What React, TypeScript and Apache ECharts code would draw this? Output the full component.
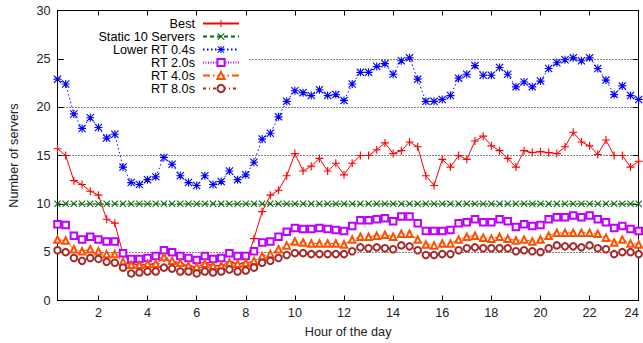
import { useEffect, useRef } from 'react';
import * as echarts from 'echarts';

// Samples every 20 minutes, from 0:20 to 24:00 (72 samples)
const best = [
  15.7, 15.0, 12.4, 12.0, 11.3, 10.9, 8.4, 8.0, 4.8, 3.8, 3.7, 3.7, 3.8, 4.4, 4.0, 3.8, 3.6, 3.4, 3.9, 3.6, 3.6, 4.0, 3.8, 3.9,
  6.4, 9.2, 10.9, 11.4, 12.9, 15.2, 13.4, 13.9, 14.7, 13.4, 14.2, 13.0, 14.2, 15.0, 15.0, 15.6, 16.3, 15.2, 15.5, 16.4, 15.9, 12.9, 11.9, 14.6,
  13.8, 15.0, 14.6, 16.5, 17.0, 16.0, 15.5, 14.7, 13.8, 15.5, 15.3, 15.4, 15.3, 15.2, 15.9, 17.4, 16.4, 16.0, 15.1, 16.6, 15.0, 15.0, 13.8, 14.4,
];
const staticServers = [
  10, 10, 10, 10, 10, 10, 10, 10, 10, 10, 10, 10, 10, 10, 10, 10, 10, 10, 10, 10, 10, 10, 10, 10,
  10, 10, 10, 10, 10, 10, 10, 10, 10, 10, 10, 10, 10, 10, 10, 10, 10, 10, 10, 10, 10, 10, 10, 10,
  10, 10, 10, 10, 10, 10, 10, 10, 10, 10, 10, 10, 10, 10, 10, 10, 10, 10, 10, 10, 10, 10, 10, 10,
];
const lowerRt04 = [
  22.9, 22.4, 19.3, 17.8, 18.9, 17.9, 16.8, 17.2, 13.8, 12.2, 12.0, 12.5, 12.8, 14.8, 14.1, 12.9, 12.2, 11.9, 12.9, 12.0, 12.3, 13.4, 12.5, 13.0,
  14.3, 16.7, 17.3, 19.0, 20.6, 21.7, 21.5, 21.2, 21.8, 21.2, 21.3, 20.7, 22.4, 23.6, 23.6, 24.2, 24.5, 23.4, 24.8, 25.1, 22.9, 20.6, 20.6, 20.8,
  21.2, 23.0, 23.4, 24.3, 23.3, 23.3, 24.1, 23.4, 22.1, 22.6, 22.1, 22.7, 24.0, 24.6, 24.9, 25.1, 24.8, 25.1, 24.0, 22.8, 21.3, 22.2, 21.2, 20.8,
];
const rt20 = [
  7.9, 7.8, 6.7, 6.3, 6.6, 6.3, 6.1, 6.1, 4.9, 4.3, 4.3, 4.4, 4.6, 5.2, 5.0, 4.6, 4.4, 4.2, 4.6, 4.3, 4.4, 4.9, 4.6, 4.6,
  5.1, 6.0, 6.1, 6.6, 7.1, 7.5, 7.4, 7.4, 7.5, 7.4, 7.3, 7.2, 7.7, 8.3, 8.3, 8.4, 8.5, 8.2, 8.7, 8.7, 8.0, 7.2, 7.2, 7.2,
  7.3, 8.0, 8.1, 8.4, 8.1, 8.1, 8.4, 8.2, 7.6, 7.9, 7.7, 7.8, 8.4, 8.6, 8.6, 8.8, 8.6, 8.8, 8.4, 8.1, 7.5, 7.7, 7.4, 7.2,
];
const rt40 = [
  6.3, 6.2, 5.3, 5.1, 5.3, 5.1, 4.8, 4.8, 4.0, 3.7, 3.7, 3.8, 3.8, 4.5, 4.1, 3.9, 3.6, 3.5, 3.8, 3.6, 3.6, 3.9, 3.8, 3.9,
  4.1, 4.6, 4.8, 5.3, 5.7, 6.1, 6.0, 5.9, 5.9, 5.9, 5.9, 5.8, 6.3, 6.6, 6.6, 6.7, 6.8, 6.6, 6.9, 6.9, 6.3, 5.8, 5.7, 5.9,
  5.9, 6.3, 6.6, 6.7, 6.5, 6.4, 6.6, 6.4, 6.2, 6.3, 6.1, 6.3, 6.7, 7.0, 7.0, 7.0, 7.0, 7.0, 6.9, 6.5, 6.0, 6.3, 5.9, 5.8,
];
const rt80 = [
  5.2, 5.0, 4.4, 4.1, 4.4, 4.3, 4.0, 3.9, 3.4, 2.8, 2.9, 3.0, 3.0, 3.4, 3.3, 3.0, 3.0, 2.8, 3.0, 2.9, 3.0, 3.2, 3.0, 3.1,
  3.4, 3.9, 4.1, 4.4, 4.7, 4.9, 4.9, 4.8, 4.8, 4.8, 4.8, 4.8, 5.1, 5.5, 5.4, 5.5, 5.4, 5.3, 5.7, 5.6, 5.2, 4.7, 4.7, 4.8,
  4.8, 5.2, 5.4, 5.5, 5.4, 5.4, 5.4, 5.4, 5.1, 5.2, 5.1, 5.0, 5.4, 5.7, 5.6, 5.6, 5.5, 5.7, 5.4, 5.3, 4.8, 5.0, 5.0, 4.8,
];
const hours = best.map((_, i) => (i + 1) / 3);
const xTicks = [2, 4, 6, 8, 10, 12, 14, 16, 18, 20, 22, 24];
const seriesNames = ['Best', 'Static 10 Servers', 'Lower RT 0.4s', 'RT 2.0s', 'RT 4.0s', 'RT 8.0s'];

const FONT = 'Liberation Sans, Arial, Helvetica, sans-serif';
const FS = 12.7;

const PLUS = 'path://M4.3,0H5.7V4.3H10V5.7H5.7V10H4.3V5.7H0V4.3H4.3Z';
const CROSS = 'path://M0,1.1L1.1,0L5,3.9L8.9,0L10,1.1L6.1,5L10,8.9L8.9,10L5,6.1L1.1,10L0,8.9L3.9,5Z';
const STAR = 'path://M4.3,0H5.7V4.3H10V5.7H5.7V10H4.3V5.7H0V4.3H4.3Z M0,1L1,0L5,4L9,0L10,1L6,5L10,9L9,10L5,6L1,10L0,9L4,5Z';

function pts(arr: number[]) {
  return hours.map((h, i) => [h, arr[i]]);
}

export default function App() {
  const ref = useRef<HTMLDivElement>(null);
  useEffect(() => {
    const chart = echarts.init(ref.current!, null, { renderer: 'svg' });
    const axisLine = { show: true, onZero: false, lineStyle: { color: '#000', width: 1 } };
    const mk = (name: string, data: number[], color: string, symbol: string, lineType: any, size: number, filled: boolean) => ({
      type: 'line',
      name,
      data: pts(data),
      xAxisIndex: 0,
      yAxisIndex: 0,
      symbol,
      symbolSize: size,
      showAllSymbol: true,
      lineStyle: { color, width: 1, type: lineType },
      itemStyle: filled ? { color, borderWidth: 0 } : { color, borderColor: color, borderWidth: 1 },
    });
    chart.setOption({
      animation: false,
      textStyle: { fontFamily: FONT },
      grid: { left: 57.5, right: 4.3, top: 10.5, bottom: 42.5, outerBoundsMode: 'none', containLabel: false },
      legend: {
        orient: 'vertical',
        align: 'right',
        right: 403,
        top: 17,
        padding: 0,
        itemGap: 0,
        itemWidth: 36,
        itemHeight: 9,
        data: seriesNames,
        textStyle: { fontSize: FS, color: '#000', fontFamily: FONT, lineHeight: 12.5, padding: [0, 3, 0, 0] },
      },
      graphic: [
        { type: 'rect', shape: { x: 64, y: 55, width: 184, height: 8 }, style: { fill: '#fff' }, z: 1 },
      ],
      xAxis: [
        {
          type: 'value', min: 1 / 3, max: 24, position: 'bottom',
          axisLine,
          axisTick: { show: true, inside: true, length: 5, customValues: xTicks, lineStyle: { color: '#000' } },
          axisLabel: { customValues: xTicks, color: '#222', fontSize: FS, margin: 6, fontFamily: FONT, alignMaxLabel: 'right' },
          splitLine: { show: false },
          name: 'Hour of the day', nameLocation: 'middle', nameGap: 25,
          nameTextStyle: { fontSize: FS, color: '#222', fontFamily: FONT },
        },
        {
          type: 'value', min: 1 / 3, max: 24, position: 'top',
          axisLine,
          axisTick: { show: true, inside: true, length: 5, customValues: xTicks, lineStyle: { color: '#000' } },
          axisLabel: { show: false },
          splitLine: { show: false },
        },
      ],
      yAxis: [
        {
          type: 'value', min: 0, max: 30, interval: 5, position: 'left',
          axisLine,
          axisTick: { show: true, inside: true, length: 6, lineStyle: { color: '#000' } },
          axisLabel: { color: '#222', fontSize: FS, margin: 7, fontFamily: FONT },
          splitLine: { show: true, lineStyle: { color: '#000', width: 1, type: [1, 2] } },
          name: 'Number of servers', nameLocation: 'middle', nameGap: 37, nameRotate: 90,
          nameTextStyle: { fontSize: FS, color: '#222', fontFamily: FONT },
        },
        {
          type: 'value', min: 0, max: 30, interval: 5, position: 'right',
          axisLine,
          axisTick: { show: true, inside: true, length: 6, lineStyle: { color: '#000' } },
          axisLabel: { show: false },
          splitLine: { show: false },
        },
      ],
      series: [
        mk('Best', best, '#ff0000', PLUS, 'solid', 8, true),
        mk('Static 10 Servers', staticServers, '#006e00', CROSS, [4, 3], 7, true),
        mk('Lower RT 0.4s', lowerRt04, '#0000ff', STAR, [1.5, 2.5], 8, true),
        mk('RT 2.0s', rt20, '#c000ff', 'emptyRect', [1, 1.5], 6.5, false),
        mk('RT 4.0s', rt40, '#ff5000', 'emptyTriangle', [7, 3, 1.5, 3], 6.5, false),
        mk('RT 8.0s', rt80, '#a52a2a', 'emptyCircle', [3, 3, 1, 3], 6.5, false),
      ],
    });
    return () => chart.dispose();
  }, []);
  return <div ref={ref} style={{ position: 'absolute', left: 0, top: 0, width: 643, height: 343 }} />;
}
